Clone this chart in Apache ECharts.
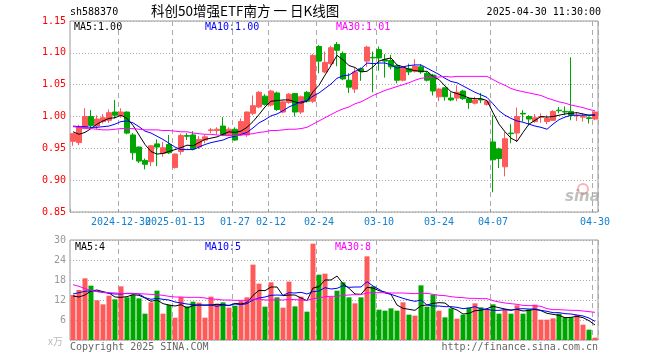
<!DOCTYPE html>
<html><head><meta charset="utf-8">
<script src="https://cdn.jsdelivr.net/npm/echarts@6/dist/echarts.min.js"></script>
<style>html,body{margin:0;padding:0;background:#fff}#c{width:660px;height:360px}</style>
</head><body><div id="c"></div>
<script>
const dates = ['2024-12-18','2024-12-19','2024-12-20','2024-12-23','2024-12-24','2024-12-25','2024-12-26','2024-12-27',
'2024-12-30','2024-12-31','2025-01-02','2025-01-03','2025-01-06','2025-01-07','2025-01-08','2025-01-09','2025-01-10',
'2025-01-13','2025-01-14','2025-01-15','2025-01-16','2025-01-17','2025-01-20','2025-01-21','2025-01-22','2025-01-23','2025-01-24',
'2025-01-27','2025-02-05','2025-02-06','2025-02-07','2025-02-10','2025-02-11','2025-02-12','2025-02-13','2025-02-14',
'2025-02-17','2025-02-18','2025-02-19','2025-02-20','2025-02-21','2025-02-24','2025-02-25','2025-02-26','2025-02-27','2025-02-28',
'2025-03-03','2025-03-04','2025-03-05','2025-03-06','2025-03-07','2025-03-10','2025-03-11','2025-03-12','2025-03-13','2025-03-14',
'2025-03-17','2025-03-18','2025-03-19','2025-03-20','2025-03-21','2025-03-24','2025-03-25','2025-03-26','2025-03-27','2025-03-28',
'2025-03-31','2025-04-01','2025-04-02','2025-04-03','2025-04-07','2025-04-08','2025-04-09','2025-04-10','2025-04-11',
'2025-04-14','2025-04-15','2025-04-16','2025-04-17','2025-04-18','2025-04-21','2025-04-22','2025-04-23','2025-04-24','2025-04-25',
'2025-04-28','2025-04-29','2025-04-30'];

const openP = [0.961,0.959,0.981,1.000,0.985,0.992,0.994,1.007,1.001,1.007,
0.971,0.952,0.931,0.929,0.957,0.942,0.956,0.920,0.945,0.970,
0.971,0.952,0.963,0.978,0.978,0.985,0.971,0.980,0.971,0.971,
1.005,1.015,1.032,1.018,1.037,1.007,1.022,1.036,1.007,1.038,
1.024,1.110,1.070,1.083,1.113,1.099,1.057,1.043,1.075,1.087,
1.093,1.105,1.089,1.088,1.080,1.057,1.075,1.071,1.078,1.068,
1.065,1.031,1.045,1.029,1.029,1.040,1.028,1.021,1.027,1.019,
0.960,0.949,0.921,0.974,0.974,1.005,1.000,0.992,0.999,0.992,
0.994,1.010,1.008,1.008,1.001,0.999,0.998,0.996];
const closeP = [0.973,0.983,1.000,0.986,0.996,0.998,1.006,1.002,1.007,0.974,
0.943,0.930,0.925,0.954,0.952,0.951,0.943,0.941,0.970,0.969,
0.949,0.964,0.968,0.979,0.980,0.971,0.980,0.963,0.992,1.007,
1.017,1.038,1.019,1.040,1.011,1.023,1.035,1.007,1.031,1.024,
1.096,1.087,1.085,1.108,1.104,1.059,1.046,1.070,1.071,1.109,
1.092,1.092,1.087,1.078,1.057,1.077,1.070,1.079,1.070,1.057,
1.040,1.043,1.031,1.026,1.038,1.028,1.022,1.026,1.026,1.024,
0.932,0.934,0.965,0.973,1.000,1.004,0.996,0.998,1.000,0.997,
1.008,1.009,1.007,1.002,1.002,1.000,0.997,1.007];
const highP = [0.974,0.987,1.013,1.010,1.002,1.004,1.011,1.026,1.013,1.008,
0.974,0.953,0.934,0.955,0.964,0.960,0.971,0.942,0.973,0.974,
0.977,0.969,0.971,0.982,0.983,0.999,0.983,0.983,0.997,1.008,
1.033,1.040,1.035,1.042,1.039,1.025,1.037,1.037,1.033,1.040,
1.098,1.112,1.102,1.111,1.117,1.102,1.068,1.076,1.077,1.111,
1.102,1.110,1.098,1.097,1.082,1.078,1.083,1.090,1.082,1.070,
1.067,1.045,1.046,1.038,1.049,1.042,1.030,1.031,1.037,1.026,
1.002,0.951,0.976,0.988,1.014,1.010,1.002,1.004,1.005,1.002,
1.010,1.015,1.016,1.093,1.007,1.005,1.000,1.008];
const lowP = [0.954,0.955,0.980,0.981,0.980,0.989,0.990,0.997,0.998,0.972,
0.932,0.927,0.917,0.922,0.922,0.937,0.941,0.918,0.940,0.963,
0.947,0.949,0.958,0.974,0.972,0.970,0.970,0.962,0.969,0.968,
1.002,1.013,1.017,1.016,1.009,1.005,1.020,1.000,1.004,1.022,
1.021,1.068,1.068,1.080,1.079,1.057,1.037,1.037,1.056,1.078,
1.038,1.072,1.061,1.074,1.052,1.055,1.065,1.069,1.067,1.055,
1.033,1.024,1.025,1.024,1.024,1.026,1.012,1.019,1.021,1.017,
0.881,0.919,0.906,0.958,0.960,0.992,0.986,0.990,0.990,0.988,
0.994,1.005,1.002,0.994,0.993,0.992,0.989,0.994];

const ma5 = [0.976,0.972,0.975,0.981,0.988,0.993,0.997,0.998,1.002,0.997,
0.986,0.971,0.956,0.945,0.941,0.942,0.945,0.948,0.951,0.955,
0.954,0.959,0.964,0.966,0.968,0.972,0.976,0.975,0.977,0.983,
0.992,1.003,1.015,1.024,1.025,1.026,1.026,1.023,1.021,1.024,
1.039,1.049,1.065,1.080,1.096,1.089,1.080,1.077,1.070,1.071,
1.078,1.087,1.090,1.092,1.081,1.078,1.074,1.072,1.071,1.071,
1.063,1.058,1.048,1.039,1.036,1.033,1.029,1.028,1.028,1.025,
1.006,0.988,0.976,0.966,0.961,0.975,0.988,0.994,1.000,0.999,
1.000,1.002,1.004,1.005,1.006,1.004,1.002,1.002];
const ma10 = [0.985,0.984,0.984,0.983,0.983,0.984,0.985,0.988,0.992,0.993,
0.990,0.984,0.977,0.974,0.969,0.964,0.958,0.952,0.948,0.948,
0.948,0.952,0.956,0.959,0.961,0.963,0.967,0.969,0.972,0.975,
0.982,0.990,0.995,1.001,1.004,1.009,1.015,1.019,1.023,1.025,
1.032,1.037,1.044,1.051,1.060,1.064,1.065,1.071,1.075,1.084,
1.083,1.084,1.084,1.081,1.076,1.078,1.080,1.081,1.081,1.076,
1.071,1.066,1.060,1.055,1.053,1.048,1.043,1.038,1.034,1.030,
1.020,1.009,1.002,0.997,0.993,0.991,0.988,0.985,0.983,0.980,
0.988,0.995,0.999,1.002,1.002,1.002,1.002,1.003];
const ma30 = [0.984,0.983,0.982,0.981,0.980,0.979,0.979,0.980,0.981,0.981,
0.981,0.980,0.979,0.979,0.979,0.978,0.978,0.977,0.976,0.976,
0.974,0.973,0.972,0.972,0.971,0.970,0.970,0.970,0.971,0.972,
0.973,0.975,0.976,0.978,0.978,0.979,0.980,0.980,0.981,0.983,
0.988,0.993,0.998,1.003,1.008,1.012,1.015,1.020,1.023,1.028,
1.033,1.037,1.041,1.044,1.047,1.050,1.053,1.057,1.060,1.061,
1.062,1.062,1.063,1.062,1.063,1.063,1.063,1.063,1.063,1.063,
1.058,1.053,1.049,1.044,1.041,1.039,1.037,1.035,1.033,1.029,
1.026,1.023,1.021,1.018,1.016,1.014,1.011,1.009];

const volume = [13.5,15.0,18.5,16.3,11.9,10.7,13.3,12.2,16.1,12.8,
13.6,12.5,7.9,11.3,14.8,7.9,10.5,6.7,12.9,10.1,
11.5,11.2,6.7,13.0,10.9,11.3,9.7,10.3,11.7,12.8,
22.6,16.9,10.0,17.3,12.8,9.7,17.5,10.1,13.0,8.5,
28.9,19.6,19.9,12.9,14.8,17.3,12.8,11.0,12.8,25.1,
16.1,9.1,8.8,9.5,8.8,11.3,7.6,7.3,16.4,10.0,
13.6,8.8,6.8,9.5,6.4,7.6,9.7,11.0,9.8,9.1,
10.7,7.9,9.2,7.9,10.4,7.9,9.2,10.6,6.1,6.1,
6.5,7.9,6.8,6.8,7.5,4.6,3.1,0.7];
const volMa5 = [13.2,12.9,13.5,14.7,15.0,14.5,14.1,12.9,12.8,13.0,
13.6,13.4,12.6,11.6,12.0,10.9,10.5,10.2,10.6,9.6,
10.3,10.5,10.5,10.5,10.7,10.6,10.3,11.0,10.8,11.2,
13.4,14.9,14.8,15.9,15.9,13.3,13.5,13.5,12.6,11.8,
15.6,16.0,18.0,18.0,19.2,16.9,15.5,13.8,13.7,15.8,
15.6,14.8,14.4,13.7,10.5,9.5,9.2,8.9,10.3,10.5,
11.0,11.2,11.1,9.7,9.0,7.8,8.0,8.8,8.9,9.4,
10.1,9.7,9.3,9.0,9.2,8.7,8.9,9.2,8.8,8.0,
7.7,7.4,6.7,6.8,7.1,6.7,5.8,4.5];
const volMa10 = [13.8,14.2,14.6,14.8,14.6,14.3,14.0,13.8,13.8,14.0,
14.0,13.8,12.7,12.2,12.5,12.2,12.0,11.4,11.1,10.8,
10.6,10.5,10.4,10.5,10.1,10.5,10.4,10.8,10.6,10.9,
12.0,12.6,12.9,13.4,13.5,13.4,14.2,14.1,14.3,13.8,
14.5,14.7,15.7,15.3,15.5,16.3,15.8,15.9,15.9,17.5,
16.2,15.2,14.1,13.7,13.1,12.5,12.0,11.6,12.0,10.5,
10.2,10.2,10.0,10.0,9.8,9.4,9.6,10.0,9.3,9.2,
8.9,8.9,9.1,8.9,9.3,9.4,9.3,9.3,8.9,8.6,
8.2,8.2,7.9,7.8,7.5,7.2,6.6,5.6];
const volMa30 = [16.6,16.1,15.4,14.9,14.5,14.3,14.2,14.1,14.0,13.9,
13.9,13.9,13.8,13.7,13.6,13.4,13.1,12.9,12.9,12.8,
12.8,12.8,12.6,12.3,12.2,12.0,12.0,11.9,11.9,11.9,
12.2,12.3,12.0,12.0,12.1,12.0,12.2,12.1,12.0,11.9,
12.4,12.6,13.0,13.1,13.1,13.4,13.5,13.6,13.6,14.1,
14.2,14.2,14.2,14.1,14.1,14.1,14.0,13.9,14.0,14.0,
13.7,13.4,13.3,13.0,12.8,12.7,12.5,12.5,12.4,12.4,
11.8,11.4,11.1,10.9,10.7,10.4,10.3,10.3,10.1,9.4,
9.1,9.1,9.0,8.9,8.9,8.7,8.5,8.3];

const tickDates = ['2024-12-30','2025-01-13','2025-01-27','2025-02-12','2025-02-24','2025-03-10','2025-03-24','2025-04-07','2025-04-30'];
const tickLabels = ['2024-12-30','2025-01-13','01-27','02-12','02-24','03-10','03-24','04-07','04-30'];
const priceTicks = [0.85, 0.90, 0.95, 1.00, 1.05, 1.10, 1.15];
const volTicks = [0, 6, 12, 18, 24, 30];

const RED = '#ff5a5a', GREEN = '#00a600', MONO = 'DejaVu Sans Mono';
const GRID_C = '#aaaaaa';
const labelMap = {};
tickDates.forEach((d, k) => labelMap[d] = tickLabels[k]);
const isTick = (idx, val) => labelMap[val] !== undefined;
// the first label overlaps the second one; draw it on its own axis so it is not dropped
const firstOnly = (idx, val) => val === tickDates[0];
const restOnly = (idx, val) => labelMap[val] !== undefined && val !== tickDates[0];

const chart = echarts.init(document.getElementById('c'), null, {renderer: 'canvas'});
const xAxisDef = (gi, mode) => ({
  type: 'category', gridIndex: gi, data: dates, boundaryGap: true, position: 'bottom', offset: 0,
  axisLine: {show: false},
  axisTick: {show: mode !== 'none', inside: true, length: 3, interval: mode === 'first' ? firstOnly : isTick, lineStyle: {color: '#999'}},
  axisLabel: mode === 'none' ? {show: false} : {show: true, hideOverlap: false,
    interval: mode === 'first' ? firstOnly : restOnly, formatter: v => labelMap[v] || '', color: '#1580d0',
    fontSize: 10, fontFamily: MONO, margin: 5},
  splitLine: {show: mode !== 'first', interval: isTick, lineStyle: {color: GRID_C, width: 1, type: [5, 4]}}
});
const line = (data, color, xi, yi) => ({type: 'line', xAxisIndex: xi, yAxisIndex: yi, data: data, showSymbol: false,
  symbol: 'none', lineStyle: {color: color, width: 1}, itemStyle: {color: color}, z: 5, silent: true});

chart.setOption({
  animation: false,
  backgroundColor: '#ffffff',
  grid: [
    {left: 70, top: 21, width: 528, height: 191, show: true, borderColor: '#999', borderWidth: 1},
    {left: 70, top: 240, width: 528, height: 100, show: true, borderColor: '#999', borderWidth: 1}
  ],
  xAxis: [xAxisDef(0, 'rest'), xAxisDef(1, 'none'), xAxisDef(0, 'first')],
  yAxis: [
    {type: 'value', gridIndex: 0, min: priceTicks[0], max: priceTicks[priceTicks.length - 1], interval: 0.05,
     axisLine: {show: false}, axisTick: {show: false},
     axisLabel: {color: '#ff0000', fontSize: 10, fontFamily: MONO, margin: 4, formatter: v => v.toFixed(2)},
     splitLine: {show: true, lineStyle: {color: GRID_C, type: [1, 2]}}},
    {type: 'value', gridIndex: 1, min: volTicks[0], max: volTicks[volTicks.length - 1], interval: 6,
     axisLine: {show: false}, axisTick: {show: false},
     axisLabel: {color: '#999', fontSize: 10, fontFamily: MONO, margin: 4, formatter: v => v === 0 ? '' : String(v)},
     splitLine: {show: true, lineStyle: {color: GRID_C, type: [1, 2]}}}
  ],
  series: [
    {type: 'candlestick', xAxisIndex: 0, yAxisIndex: 0, barWidth: 5,
     data: dates.map((d, i) => [openP[i], closeP[i], lowP[i], highP[i]]),
     itemStyle: {color: RED, color0: GREEN, borderColor: RED, borderColor0: GREEN, borderWidth: 1}},
    line(ma5, '#000000', 0, 0),
    line(ma10, '#0000ff', 0, 0),
    line(ma30, '#ff00ff', 0, 0),
    {type: 'bar', xAxisIndex: 1, yAxisIndex: 1, barWidth: 5,
     data: volume.map((v, i) => ({value: v, itemStyle: {color: closeP[i] >= openP[i] ? RED : GREEN}}))},
    line(volMa5, '#000000', 1, 1),
    line(volMa10, '#0000ff', 1, 1),
    line(volMa30, '#ff00ff', 1, 1)
  ],
  graphic: [
    {type: 'text', left: 70, top: 7, style: {text: 'sh588370', fill: '#000', font: '10px "DejaVu Sans Mono"'}},
    {type: 'text', left: 151, top: 4, style: {text: '科创50增强ETF南方 一 日K线图', fill: '#000', font: '13.5px "Noto Sans CJK SC"'}},
    {type: 'text', right: 59, top: 7, style: {text: '2025-04-30 11:30:00', fill: '#000', font: '10px "DejaVu Sans Mono"'}},
    {type: 'text', left: 74, top: 22, style: {text: 'MA5:1.00', fill: '#000', font: '10px "DejaVu Sans Mono"'}},
    {type: 'text', left: 205, top: 22, style: {text: 'MA10:1.00', fill: '#0000ff', font: '10px "DejaVu Sans Mono"'}},
    {type: 'text', left: 336, top: 22, style: {text: 'MA30:1.01', fill: '#ff00ff', font: '10px "DejaVu Sans Mono"'}},
    {type: 'text', left: 75, top: 242, style: {text: 'MA5:4', fill: '#000', font: '10px "DejaVu Sans Mono"'}},
    {type: 'text', left: 205, top: 242, style: {text: 'MA10:5', fill: '#0000ff', font: '10px "DejaVu Sans Mono"'}},
    {type: 'text', left: 335, top: 242, style: {text: 'MA30:8', fill: '#ff00ff', font: '10px "DejaVu Sans Mono"'}},
    {type: 'text', left: 48, top: 336, style: {text: 'x万', fill: '#bbb', font: '10px "Noto Sans CJK SC"'}},
    {type: 'text', left: 70, top: 342, style: {text: 'Copyright 2025 SINA.COM', fill: '#666', font: '10px "DejaVu Sans Mono"'}},
    {type: 'text', right: 62, top: 342, style: {text: 'http://finance.sina.com.cn', fill: '#666', font: '10px "DejaVu Sans Mono"'}},
    {type: 'circle', shape: {cx: 583, cy: 189, r: 5}, style: {fill: 'none', stroke: 'rgba(240,130,130,0.6)', lineWidth: 2}},
    {type: 'text', left: 565, top: 190, style: {text: 'sina', fill: 'rgba(150,150,150,0.6)', font: 'italic bold 15px "DejaVu Sans"'}}
  ]
});
</script></body></html>
